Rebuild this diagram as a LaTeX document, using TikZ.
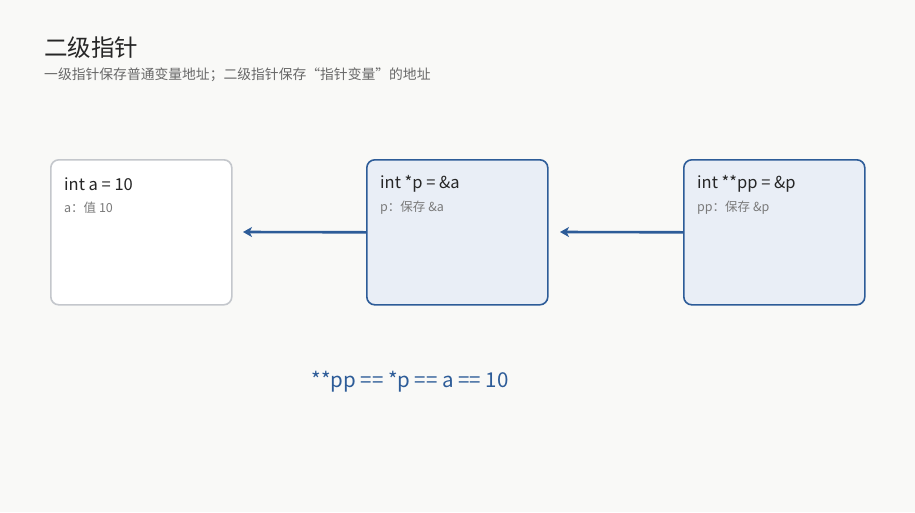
\documentclass[tikz,border=0pt]{standalone}
\usepackage{fontspec}
\setmainfont{Noto Sans CJK SC}
\usetikzlibrary{arrows.meta}
\definecolor{bg}{HTML}{F9F9F7}
\definecolor{blu}{HTML}{2D5C98}
\definecolor{lblue}{HTML}{E9EEF6}
\definecolor{gbd}{HTML}{C4C7CC}
\definecolor{txt}{HTML}{262626}
\definecolor{sub}{HTML}{7A7A7A}
\begin{document}
\begin{tikzpicture}[x=1pt,y=-1pt,
  box/.style={draw=blu,fill=lblue,line width=1.6pt,rounded corners=8pt,minimum width=181pt,minimum height=145pt,anchor=north west},
  wbox/.style={box,draw=gbd,fill=white},
  main/.style={anchor=west,font=\fontsize{16.5}{18}\selectfont,text=txt,inner sep=0pt},
  subt/.style={anchor=west,font=\fontsize{12.5}{14}\selectfont,text=sub,inner sep=0pt},
  arr/.style={draw=blu,line width=2.6pt,-{Stealth[length=9pt,width=10pt,inset=2.5pt]}}]
\fill[bg] (0,0) rectangle (915,512);
\useasboundingbox (0,0) rectangle (915,512);
\node[anchor=west,inner sep=0pt,font=\fontsize{23.5}{26}\selectfont,text=txt] (t) at (44,48) {二级指针};
\node[anchor=west,inner sep=0pt,font=\fontsize{13.8}{15}\selectfont,text=sub!85!black] (s) at (44,75) {一级指针保存普通变量地址；二级指针保存“指针变量”的地址};
\node[wbox] (A) at (50,159) {};
\node[box] (B) at (366,159) {};
\node[box] (C) at (683,159) {};
\node[main] (Am) at (64,184) {int a = 10};
\node[subt] (As) at (64,208) {a：值 10};
\node[main] (Bm) at (380,184) {int *p = \&a};
\node[subt] (Bs) at (380,208) {p：保存 \&a};
\node[main] (Cm) at (697,184) {int **pp = \&p};
\node[subt] (Cs) at (697,208) {pp：保存 \&p};
\coordinate (ae) at (243,232);
\coordinate (be) at (560,232);
\draw[arr] (B.west) -- (ae);
\draw[arr] (C.west) -- (be);
\node[inner sep=0pt,font=\fontsize{20.5}{22}\selectfont,text=blu] (f) at (410,382) {**pp == *p == a == 10};
\end{tikzpicture}
\end{document}
